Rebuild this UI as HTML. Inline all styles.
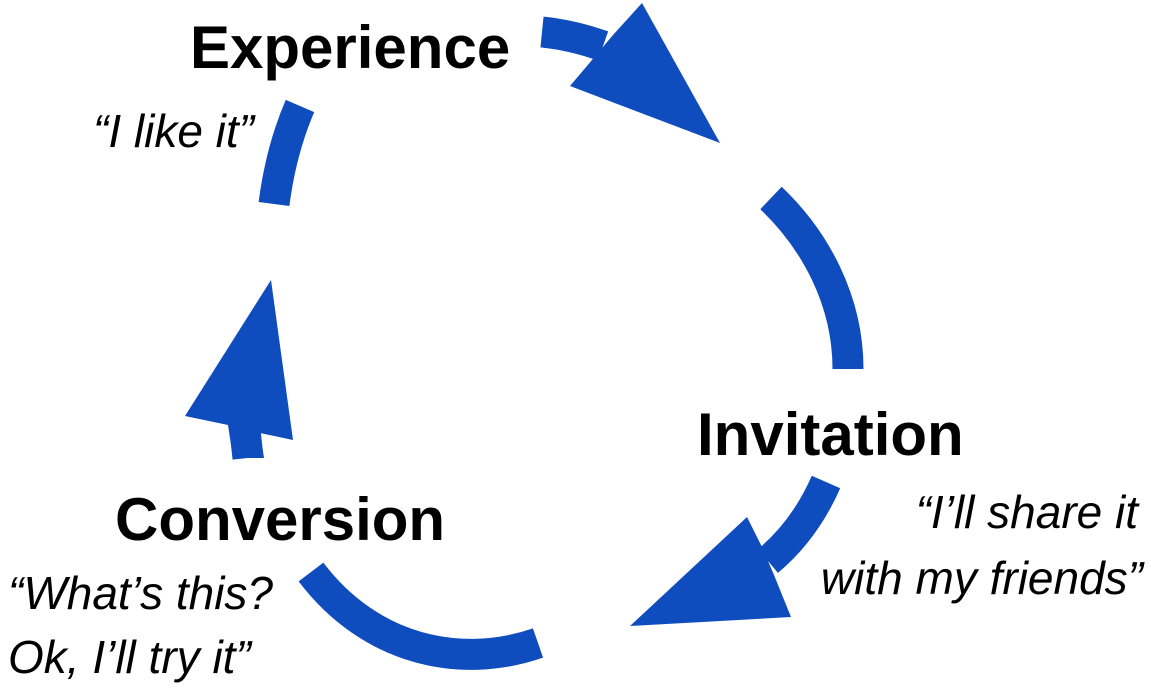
<!DOCTYPE html>
<html><head><meta charset="utf-8"><style>
html,body{margin:0;padding:0;background:#fff;width:1151px;height:696px;overflow:hidden;position:relative;font-family:"Liberation Sans",Arial,sans-serif;}
.t{position:absolute;white-space:nowrap;color:#000;line-height:1;}
.b{font-weight:bold;font-size:60px;}
.i{font-style:italic;font-size:46px;}
svg{position:absolute;left:0;top:0;}
</style></head><body>
<svg width="1151" height="696" viewBox="0 0 1151 696">
<g fill="none" stroke="#0f4dbf" stroke-width="31" stroke-linecap="butt">
<path d="M542,32 Q572,35 603,46"/>
<path d="M771,198 C815,240 848,300 848,369"/>
<path d="M826,482 Q805,530 768,561"/>
<path d="M311,572 C370,650 460,670 538,643"/>
<path d="M274,204 Q281,150 300,106"/>
<path d="M248,458 L245,430"/>
</g>
<g fill="#0f4dbf">
<polygon points="613,35 642,3 720,143 570,86 592,60"/>
<polygon points="747,517 762,547 774,575 791,617 630,626"/>
<polygon points="271,280 293,440 260,433 264,458 233,458 228,425 185,416"/>
</g>
</svg>
<div class="t b" style="left:190px;top:18px">Experience</div>
<div class="t i" style="left:93px;top:108px">“I like it”</div>
<div class="t b" style="left:697px;top:405px">Invitation</div>
<div class="t i" style="right:13px;top:489px">“I’ll share it</div>
<div class="t i" style="right:8px;top:555px">with my friends”</div>
<div class="t b" style="left:115px;top:490px">Conversion</div>
<div class="t i" style="left:8px;top:570px">“What’s this?</div>
<div class="t i" style="left:8px;top:634px">Ok, I’ll try it”</div>
</body></html>
